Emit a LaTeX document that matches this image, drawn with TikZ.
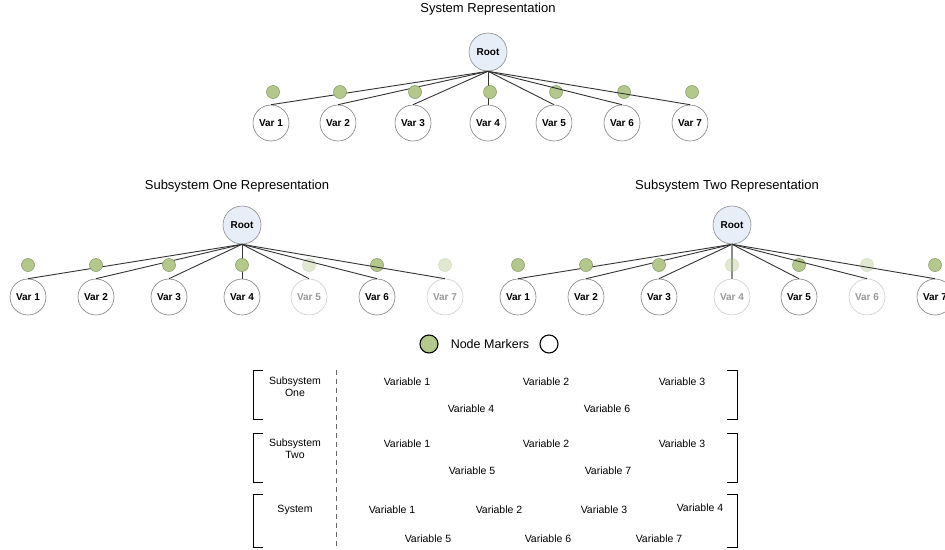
\documentclass[tikz,border=0pt]{standalone}
\usepackage{fontspec}
\setmainfont{Liberation Sans}
\usepackage{tikz}

\definecolor{markgreen}{RGB}{181,200,140}
\definecolor{markline}{RGB}{128,150,95}
\definecolor{rootblue}{RGB}{232,238,248}

\begin{document}
\begin{tikzpicture}[x=1pt,y=-1pt,
		var/.style={circle,draw=black!50,line width=0.6pt,fill=white,minimum size=36pt,inner sep=0pt,font=\fontsize{10}{11}\selectfont\bfseries},
		faded/.style={var,draw=black!20,text=black!40},
		root/.style={circle,draw=black!45,line width=0.6pt,fill=rootblue,minimum size=38pt,inner sep=0pt,font=\fontsize{10}{11}\selectfont\bfseries},
		marker/.style={circle,draw=markline,line width=0.5pt,fill=markgreen,minimum size=13pt,inner sep=0pt},
		fmarker/.style={marker,fill opacity=0.4,draw opacity=0.3},
		edge/.style={black!80,line width=0.9pt},
		fedge/.style={black!45,line width=1.4pt},
		title/.style={font=\fontsize{13}{15}\selectfont},
		txt/.style={font=\fontsize{10.5}{12}\selectfont,align=center},
		bracket/.style={line width=0.9pt}]
			% Rahmen
			\useasboundingbox (0,0) rectangle (945,549);
			
			% Ueberschriften
			\node[title] (t-sys) at (488,9) {System Representation};
			\node[title] (t-one) at (237,186) {Subsystem One Representation};
			\node[title] (t-two) at (727,186) {Subsystem Two Representation};
			
			% Baum System
			\begin{scope}[shift={(488,52)}]
				\node[root] (rs) at (0,0) {Root};
				\foreach \n/\dx in {1/-217,2/-150,3/-75,4/0,5/66,6/134,7/202} {
					\node[var] (s\n) at (\dx,71) {Var \n};
					\draw[edge] (rs.south) -- (s\n.north);
					\node[marker] (ms\n) at (\dx+2,40) {};
				}
			\end{scope}
			
			% Baum Subsystem Eins
			\begin{scope}[shift={(242,225)}]
				\node[root] (ra) at (0,0) {Root};
				\foreach \n/\dx/\st/\mk in {1/-214/var/marker,2/-146/var/marker,3/-73/var/marker,4/0/var/marker,5/67/faded/fmarker,6/135/var/marker,7/203/faded/fmarker} {
					\node[\st] (a\n) at (\dx,72) {Var \n};
					\draw[edge] (ra.south) -- (a\n.north);
					\node[\mk] (ma\n) at (\dx,40) {};
				}
			\end{scope}
			
			% Baum Subsystem Zwei
			\begin{scope}[shift={(732,225)}]
				\node[root] (rb) at (0,0) {Root};
				\foreach \n/\dx/\st/\mk/\ed in {1/-214/var/marker/edge,2/-146/var/marker/edge,3/-73/var/marker/edge,4/0/faded/fmarker/fedge,5/67/var/marker/edge,6/135/faded/fmarker/edge,7/203/var/marker/edge} {
					\node[\st] (b\n) at (\dx,72) {Var \n};
					\draw[\ed] (rb.south) -- (b\n.north);
					\node[\mk] (mb\n) at (\dx,40) {};
				}
			\end{scope}
			
			% Legende
			\node[txt,font=\fontsize{12.5}{14}\selectfont] (legend) at (490,344) {Node Markers};
			\node[circle,draw=black,line width=1.1pt,fill=markgreen,minimum size=18pt,inner sep=0pt] (l-on) at (429,344) {};
			\node[circle,draw=black,line width=1.1pt,fill=white,minimum size=18pt,inner sep=0pt] (l-off) at (549,344) {};
			
			% Klammern
			\draw[bracket] (263,370) -- (253,370) -- (253,419) -- (263,419);
			\draw[bracket] (727,370) -- (737,370) -- (737,419) -- (727,419);
			\draw[bracket] (263,433) -- (253,433) -- (253,482) -- (263,482);
			\draw[bracket] (727,433) -- (737,433) -- (737,482) -- (727,482);
			\draw[bracket] (263,494) -- (253,494) -- (253,547) -- (263,547);
			\draw[bracket] (727,494) -- (737,494) -- (737,547) -- (727,547);
			\draw[black!60,line width=0.8pt,dash pattern=on 5pt off 4pt] (336,370) to (336,549);
			
			% Zeile Subsystem Eins
			\node[txt] (k1) at (295,387) {Subsystem\\One};
			\node[txt] (v11) at (407,382) {Variable 1};
			\node[txt] (v12) at (546,382) {Variable 2};
			\node[txt] (v13) at (682,382) {Variable 3};
			\node[txt] (v14) at (471,409) {Variable 4};
			\node[txt] (v16) at (607,409) {Variable 6};
			
			% Zeile Subsystem Zwei
			\node[txt] (k2) at (295,449) {Subsystem\\Two};
			\node[txt] (v21) at (407,444) {Variable 1};
			\node[txt] (v22) at (546,444) {Variable 2};
			\node[txt] (v23) at (682,444) {Variable 3};
			\node[txt] (v25) at (472,471) {Variable 5};
			\node[txt] (v27) at (608,471) {Variable 7};
			
			% Zeile System
			\node[txt] (k3) at (295,510) {System};
			\node[txt] (v31) at (392,510) {Variable 1};
			\node[txt] (v32) at (499,510) {Variable 2};
			\node[txt] (v33) at (604,510) {Variable 3};
			\node[txt] (v34) at (700,508) {Variable 4};
			\node[txt] (v35) at (428,539) {Variable 5};
			\node[txt] (v36) at (548,539) {Variable 6};
			\node[txt] (v37) at (659,539) {Variable 7};
	\end{tikzpicture}
\end{document}
